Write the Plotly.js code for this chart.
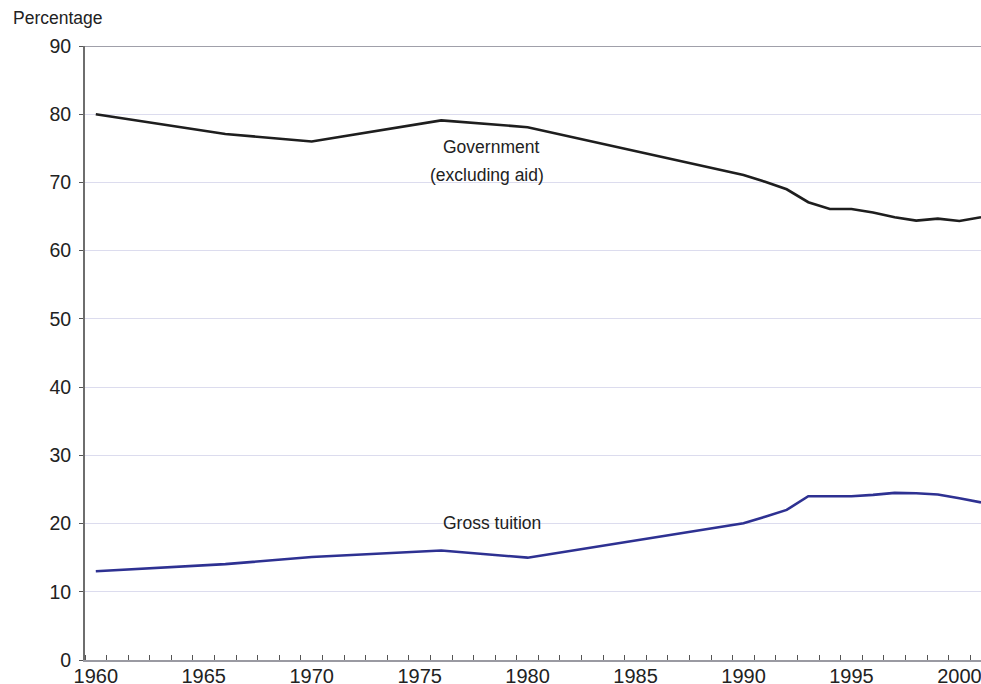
<!DOCTYPE html>
<html>
<head>
<meta charset="utf-8">
<script src="https://cdn.plot.ly/plotly-3.0.1.min.js"></script>
<style>html,body{margin:0;padding:0;background:#fff;}#chart{width:981px;height:684px;}</style>
</head>
<body>
<div id="chart"></div>
<script>
const govYears = [1960, 1966, 1970, 1976, 1980, 1990, 1991, 1992, 1993, 1994, 1995, 1996, 1997, 1998, 1999, 2000, 2001];
const govValues = [80, 77.1, 76, 79.1, 78.1, 71.1, 70.1, 69, 67.1, 66.1, 66.1, 65.6, 64.9, 64.4, 64.7, 64.35, 64.9];
const tuitionYears = [1960, 1966, 1970, 1976, 1980, 1990, 1991, 1992, 1993, 1994, 1995, 1996, 1997, 1998, 1999, 2000, 2001];
const tuitionValues = [13, 14.05, 15.1, 16.05, 15, 20.05, 21, 22, 24, 24, 24, 24.2, 24.5, 24.45, 24.25, 23.7, 23.1];
const xTickVals = [1960, 1965, 1970, 1975, 1980, 1985, 1990, 1995, 2000];
const xTickText = ['1960', '1965', '1970', '1975', '1980', '1985', '1990', '1995', '2000'];
const yTickVals = [0, 10, 20, 30, 40, 50, 60, 70, 80, 90];
const minorTicks = [];
for (let y = 1960; y <= 2001; y++) minorTicks.push(y - 0.5);

const font = 'Liberation Sans, Arial, sans-serif';

const traces = [
  {x: govYears, y: govValues, type: 'scatter', mode: 'lines',
   line: {color: '#1e1e1e', width: 2.6}, hoverinfo: 'skip', cliponaxis: true},
  {x: tuitionYears, y: tuitionValues, type: 'scatter', mode: 'lines',
   line: {color: '#2e3192', width: 2.6}, hoverinfo: 'skip', cliponaxis: true}
];

const layout = {
  width: 981, height: 684,
  margin: {l: 85, r: 0, t: 46, b: 24, pad: 0},
  paper_bgcolor: '#ffffff', plot_bgcolor: '#ffffff',
  showlegend: false,
  font: {family: font, color: '#222222'},
  xaxis: {
    range: [1959.5, 2001.0], fixedrange: true,
    tickmode: 'array', tickvals: xTickVals, ticktext: xTickText,
    ticks: '', showgrid: false, zeroline: false,
    showline: true, linecolor: '#9a9aa2', linewidth: 2,
    tickfont: {family: font, size: 20, color: '#222222'},
    ticklabeloverflow: 'allow',
    ticklabelstandoff: -3,
    minor: {tickmode: 'array', tickvals: minorTicks, ticks: 'inside', ticklen: 5, tickwidth: 1, tickcolor: '#555555', showgrid: false}
  },
  yaxis: {
    range: [0, 90], fixedrange: true,
    tickmode: 'array', tickvals: yTickVals,
    ticks: 'outside', ticklen: 4, tickwidth: 1, tickcolor: '#555555',
    showgrid: true, gridcolor: '#dcdcee', gridwidth: 1,
    zeroline: false, showline: true, linecolor: '#6e6e6e', linewidth: 2,
    tickfont: {family: font, size: 19.5, color: '#222222'},
    ticklabelstandoff: 4
  },
  shapes: [
    {type: 'line', xref: 'paper', yref: 'y', x0: 0, x1: 1, y0: 90, y1: 90,
     line: {color: '#a0a0aa', width: 2}}
  ],
  annotations: [
    {text: 'Percentage', xref: 'paper', yref: 'paper', x: -0.083, y: 1.0, yshift: 28,
     xanchor: 'left', yanchor: 'middle', showarrow: false,
     font: {family: font, size: 17.5, color: '#222222'}},
    {text: 'Government', xref: 'x', yref: 'y', x: 1978.3, y: 75.2, showarrow: false,
     xanchor: 'center', yanchor: 'middle', font: {family: font, size: 17.5, color: '#222222'}},
    {text: '(excluding aid)', xref: 'x', yref: 'y', x: 1978.1, y: 71.1, showarrow: false,
     xanchor: 'center', yanchor: 'middle', font: {family: font, size: 17.5, color: '#222222'}},
    {text: 'Gross tuition', xref: 'x', yref: 'y', x: 1978.35, y: 20.1, showarrow: false,
     xanchor: 'center', yanchor: 'middle', font: {family: font, size: 17.5, color: '#222222'}}
  ]
};

Plotly.newPlot('chart', traces, layout, {staticPlot: true, displayModeBar: false});
</script>
</body>
</html>
